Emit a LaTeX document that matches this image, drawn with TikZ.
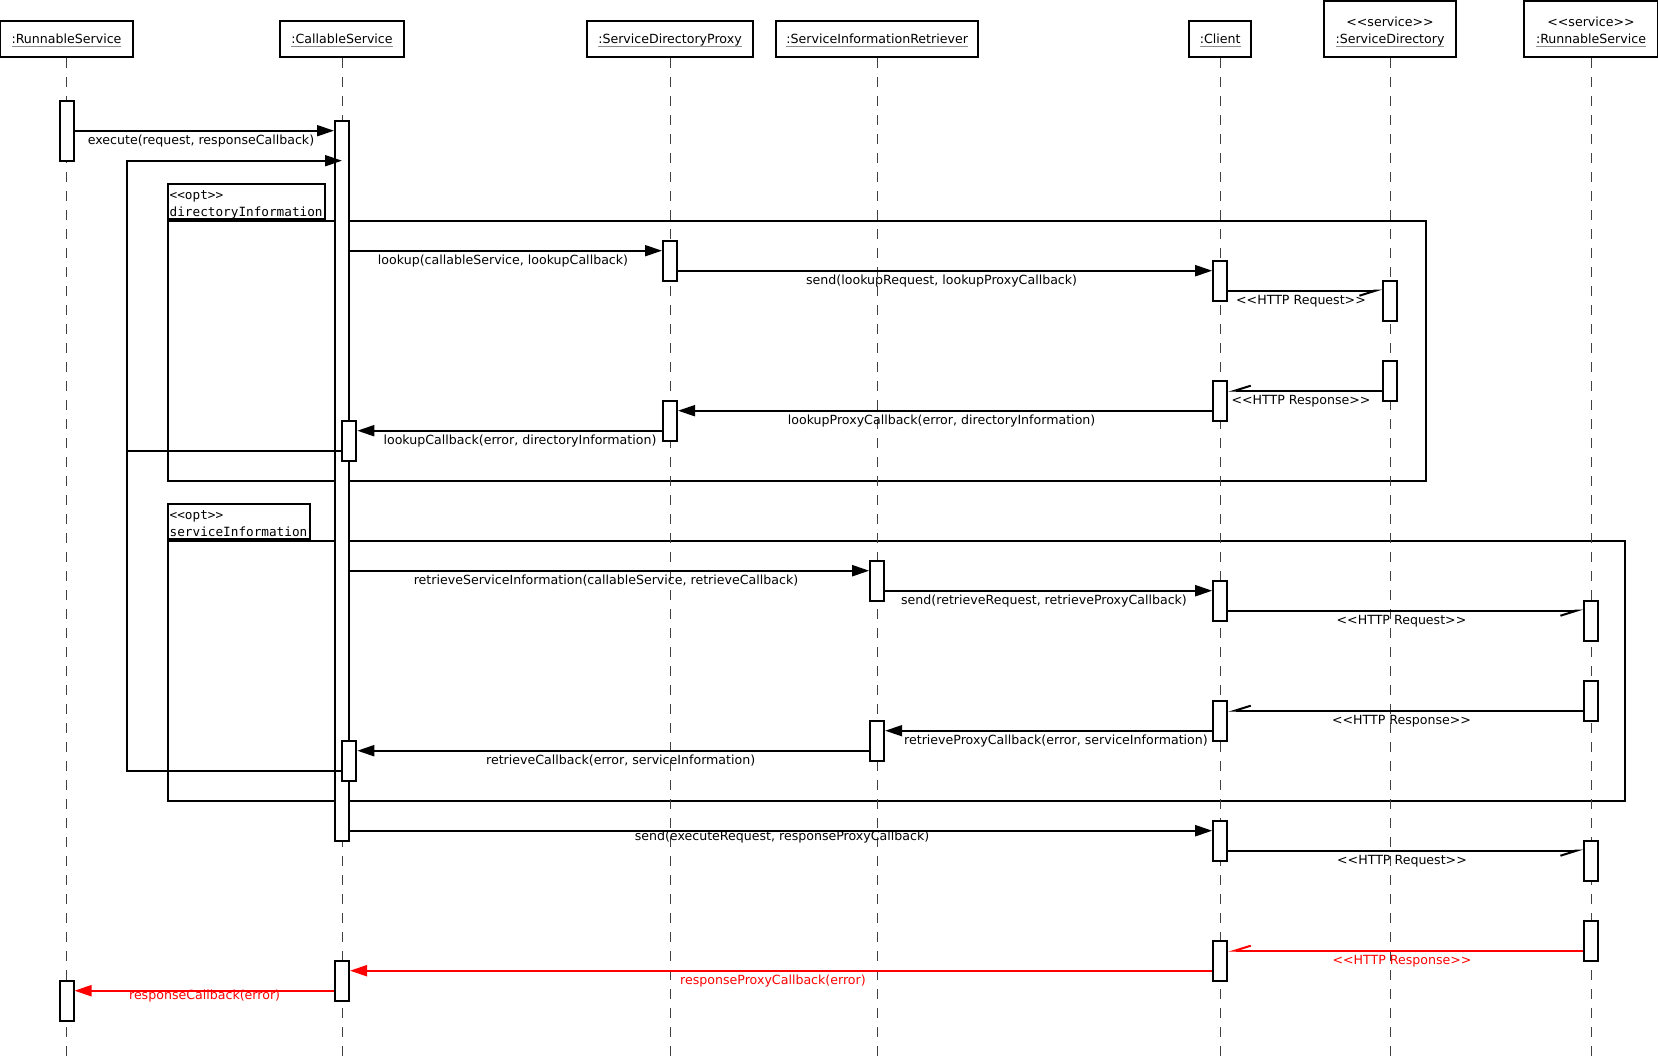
\documentclass[tikz,border=0pt]{standalone}
\usepackage{fontspec}
\setmainfont[Ligatures=TeXOff]{DejaVu Sans}
\newfontfamily\framefont[Ligatures=TeXOff]{DejaVu Sans Mono}
\usetikzlibrary{arrows.meta}

% underlined object name with a thin grey rule below the baseline
\newcommand\hdrul[1]{\setbox0\hbox{#1}\rlap{\textcolor{black!45}{\rule[-3.8pt]{\wd0}{1pt}}}\box0}

\begin{document}
\begin{tikzpicture}[x=1pt,y=-1pt,
  font=\fontsize{12.6}{15}\selectfont,
  hdrbox/.style={draw, line width=2pt, fill=white, inner sep=0pt},
  hdrtxt/.style={anchor=base, inner sep=0pt},
  life/.style={draw=black!75, line width=1pt, dash pattern=on 10pt off 9pt},
  bar/.style={draw, line width=2pt, fill=white, minimum width=14pt, minimum height=40pt, inner sep=0pt},
  msg/.style={line width=2pt, -{Triangle[length=17pt,width=11pt]}},
  async/.style={line width=2pt, -{Straight Barb[harpoon,swap,length=16pt,width=10pt]}},
  plain/.style={line width=2pt},
  lbl/.style={anchor=base, inner sep=0pt},
  framebox/.style={draw, line width=2pt, inner sep=0pt},
  tagtxt/.style={anchor=base west, inner sep=0pt, font=\framefont\fontsize{12.7}{15}\selectfont},
]
\useasboundingbox (0,0) rectangle (1658,1061);

% ---------- combined fragments ----------
\node[framebox, anchor=north west, minimum width=1258pt, minimum height=260pt] (frame1) at (167,220.2) {};
\node[framebox, anchor=south west, minimum width=157pt, minimum height=35.2pt] (frame1tag) at (167,220.2) {};
\node[tagtxt] (frame1op) at (169.5,199.5) {<<opt>>};
\node[tagtxt] (frame1nm) at (169.5,216) {directoryInformation};

\node[framebox, anchor=north west, minimum width=1457pt, minimum height=260pt] (frame2) at (167,540.2) {};
\node[framebox, anchor=south west, minimum width=142pt, minimum height=35.5pt] (frame2tag) at (167,540.2) {};
\node[tagtxt] (frame2op) at (169.5,519.5) {<<opt>>};
\node[tagtxt] (frame2nm) at (169.5,536) {serviceInformation};

% ---------- lifeline heads ----------
\node[hdrbox, minimum width=133pt, minimum height=36.6pt] (hRS) at (66.5,39) {};
\node[hdrbox, minimum width=124pt, minimum height=36.6pt] (hCS) at (342,39) {};
\node[hdrbox, minimum width=166.6pt, minimum height=36.6pt] (hSDP) at (670,39) {};
\node[hdrbox, minimum width=202.3pt, minimum height=36.6pt] (hSIR) at (877.2,39) {};
\node[hdrbox, minimum width=61.7pt, minimum height=36.6pt] (hCL) at (1220.2,39) {};
\node[hdrbox, minimum width=131.4pt, minimum height=56.6pt] (hSD) at (1390,29) {};
\node[hdrbox, minimum width=133.4pt, minimum height=56.6pt] (hRR) at (1591,29) {};

\node[hdrtxt] (tRS) at (66.5,43.3) {\hdrul{:RunnableService}};
\node[hdrtxt] (tCS) at (342,43.3) {\hdrul{:CallableService}};
\node[hdrtxt] (tSDP) at (670,43.3) {\hdrul{:ServiceDirectoryProxy}};
\node[hdrtxt] (tSIR) at (877.2,43.3) {\hdrul{:ServiceInformationRetriever}};
\node[hdrtxt] (tCL) at (1220.2,43.3) {\hdrul{:Client}};
\node[hdrtxt] (sSD) at (1390,26.7) {<<service>>};
\node[hdrtxt] (tSD) at (1390,43.3) {\hdrul{:ServiceDirectory}};
\node[hdrtxt] (sRR) at (1591,26.7) {<<service>>};
\node[hdrtxt] (tRR) at (1591,43.3) {\hdrul{:RunnableService}};

% ---------- lifelines ----------
\foreach \h in {hRS,hCS,hSDP,hSIR,hCL,hSD,hRR}
  \draw[life] (\h.south) -- (\h.south |- 0,1061);

% ---------- activation bars ----------
\node[bar, minimum height=60pt] (rsA) at (hRS |- 0,130.7) {};
\node[bar] (rsB) at (hRS |- 0,1000.7) {};
\node[bar, minimum height=720pt] (csMain) at (hCS |- 0,480.7) {};
\node[bar] (csN1) at ([xshift=7.3pt]hCS |- 0,440.7) {};
\node[bar] (csN2) at ([xshift=7.3pt]hCS |- 0,760.7) {};
\node[bar] (csEnd) at (hCS |- 0,980.7) {};
\node[bar] (sdp1) at (hSDP |- 0,260.7) {};
\node[bar] (sdp2) at (hSDP |- 0,420.7) {};
\node[bar] (sir1) at (hSIR |- 0,580.7) {};
\node[bar] (sir2) at (hSIR |- 0,740.7) {};
\node[bar] (cl1) at (hCL |- 0,280.7) {};
\node[bar] (cl2) at (hCL |- 0,400.7) {};
\node[bar] (cl3) at (hCL |- 0,600.7) {};
\node[bar] (cl4) at (hCL |- 0,720.7) {};
\node[bar] (cl5) at (hCL |- 0,840.7) {};
\node[bar] (cl6) at (hCL |- 0,960.7) {};
\node[bar] (sd1) at (hSD |- 0,300.7) {};
\node[bar] (sd2) at (hSD |- 0,380.7) {};
\node[bar] (rr1) at (hRR |- 0,620.7) {};
\node[bar] (rr2) at (hRR |- 0,700.7) {};
\node[bar] (rr3) at (hRR |- 0,860.7) {};
\node[bar] (rr4) at (hRR |- 0,940.7) {};

% ---------- messages ----------
\coordinate (loopX) at (127,160.7);
\draw[msg] (rsA.east |- 0,130.7) -- (csMain.west |- 0,130.7);
\draw[msg] (csN2.west |- 0,770.7) -- (loopX |- 0,770.7) -- (loopX) -- (csMain.center |- loopX);
\draw[plain] (csN1.west |- 0,450.7) -- (loopX |- 0,450.7);

\draw[msg] (csMain.east |- 0,250.7) -- (sdp1.west |- 0,250.7);
\draw[msg] (sdp1.east |- 0,270.7) -- (cl1.west |- 0,270.7);
\draw[async] (cl1.east |- 0,290.7) -- (sd1.west |- 0,290.7);
\draw[async] (sd2.west |- 0,390.7) -- (cl2.east |- 0,390.7);
\draw[msg] (cl2.west |- 0,410.7) -- (sdp2.east |- 0,410.7);
\draw[msg] (sdp2.west |- 0,430.7) -- (csN1.east |- 0,430.7);

\draw[msg] (csMain.east |- 0,570.7) -- (sir1.west |- 0,570.7);
\draw[msg] (sir1.east |- 0,590.7) -- (cl3.west |- 0,590.7);
\draw[async] (cl3.east |- 0,610.7) -- (rr1.west |- 0,610.7);
\draw[async] (rr2.west |- 0,710.7) -- (cl4.east |- 0,710.7);
\draw[msg] (cl4.west |- 0,730.7) -- (sir2.east |- 0,730.7);
\draw[msg] (sir2.west |- 0,750.7) -- (csN2.east |- 0,750.7);

\draw[msg] (csMain.east |- 0,830.7) -- (cl5.west |- 0,830.7);
\draw[async] (cl5.east |- 0,850.7) -- (rr3.west |- 0,850.7);
\draw[async, red] (rr4.west |- 0,950.7) -- (cl6.east |- 0,950.7);
\draw[msg, red] (cl6.west |- 0,970.7) -- (csEnd.east |- 0,970.7);
\draw[msg, red] (csEnd.west |- 0,990.7) -- (rsB.east |- 0,990.7);

% ---------- message labels ----------
\node[lbl] (mExec) at (201,144.5) {execute(request, responseCallback)};
\node[lbl] (mLookup) at (503,264.5) {lookup(callableService, lookupCallback)};
\node[lbl] (mSendL) at (941.6,284.5) {send(lookupRequest, lookupProxyCallback)};
\node[lbl] (mReq1) at (1301,304.5) {<<HTTP Request>>};
\node[lbl] (mResp1) at (1301,404.5) {<<HTTP Response>>};
\node[lbl] (mLPC) at (941.6,424.5) {lookupProxyCallback(error, directoryInformation)};
\node[lbl] (mLC) at (520,444.5) {lookupCallback(error, directoryInformation)};
\node[lbl] (mRSI) at (606,584.5) {retrieveServiceInformation(callableService, retrieveCallback)};
\node[lbl] (mSendR) at (1044,604.5) {send(retrieveRequest, retrieveProxyCallback)};
\node[lbl] (mReq2) at (1401.5,624.5) {<<HTTP Request>>};
\node[lbl] (mResp2) at (1401.5,724.5) {<<HTTP Response>>};
\node[lbl] (mRPC) at (1056,744.5) {retrieveProxyCallback(error, serviceInformation)};
\node[lbl] (mRC) at (620.7,764.5) {retrieveCallback(error, serviceInformation)};
\node[lbl] (mSendE) at (782,840) {send(executeRequest, responseProxyCallback)};
\node[lbl] (mReq3) at (1402,864.5) {<<HTTP Request>>};
\node[lbl, text=red] (mResp3) at (1402,964.5) {<<HTTP Response>>};
\node[lbl, text=red] (mRPC3) at (773,984.5) {responseProxyCallback(error)};
\node[lbl, text=red] (mRC3) at (204.6,999) {responseCallback(error)};
\end{tikzpicture}
\end{document}
